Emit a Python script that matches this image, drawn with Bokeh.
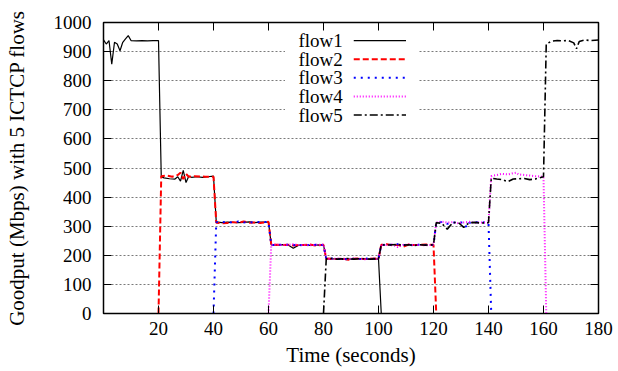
from bokeh.plotting import figure
from bokeh.models import (Range1d, FixedTicker, LinearAxis, Label, Arrow,
                          BoxAnnotation, ColumnDataSource)
from bokeh.embed import file_html
from bokeh.resources import INLINE

# ---------------- data ----------------
x_ticks = [20, 40, 60, 80, 100, 120, 140, 160, 180]
y_ticks = [0, 100, 200, 300, 400, 500, 600, 700, 800, 900, 1000]

flow_names = ["flow1", "flow2", "flow3", "flow4", "flow5"]

flow1_t = [0, 1, 2, 3, 4, 5, 6, 7, 8, 9, 10, 12, 14, 16, 18, 20,
           21, 22, 24, 26, 27, 28, 29, 30, 31, 32, 34, 36, 38, 40,
           41, 43, 45, 47, 49, 51, 53, 55, 57, 60,
           61, 63, 65, 67, 69, 71, 73, 75, 77, 80,
           81, 83, 85, 87, 89, 91, 93, 95, 97, 100,
           101]
flow1_v = [940, 926, 938, 857, 932, 926, 903, 932, 944, 955, 938, 937, 938, 937, 938, 938,
           470, 466, 463, 462, 470, 455, 492, 450, 472, 468, 470, 468, 470, 472,
           315, 312, 314, 313, 312, 313, 315, 312, 314, 314,
           236, 235, 237, 236, 224, 235, 236, 234, 236, 235,
           188, 187, 189, 186, 188, 187, 189, 188, 187, 188,
           0]

flow2_t = [20, 21, 23, 25, 27, 28, 29, 30, 31, 33, 35, 37, 40,
           41, 43, 45, 47, 49, 51, 53, 55, 57, 60,
           61, 63, 65, 67, 69, 71, 73, 75, 77, 80,
           81, 83, 85, 87, 89, 91, 93, 95, 97, 100,
           101, 103, 105, 107, 109, 111, 113, 115, 117, 120,
           121]
flow2_v = [0, 472, 474, 470, 476, 484, 462, 480, 470, 472, 471, 470, 470,
           312, 310, 311, 314, 312, 316, 312, 313, 311, 315,
           237, 236, 235, 236, 234, 236, 235, 237, 234, 236,
           189, 188, 187, 189, 185, 188, 189, 187, 188, 189,
           236, 238, 234, 236, 230, 237, 235, 236, 237, 236,
           0]

flow3_t = [40, 41, 43, 45, 47, 49, 51, 53, 55, 57, 60,
           61, 63, 65, 67, 69, 71, 73, 75, 77, 80,
           81, 83, 85, 87, 89, 91, 93, 95, 97, 100,
           101, 103, 105, 107, 109, 111, 113, 115, 117, 120,
           121, 123, 125, 127, 129, 131, 132, 133, 135, 137, 140,
           141]
flow3_v = [0, 314, 313, 315, 312, 316, 313, 314, 312, 315, 314,
           236, 235, 237, 236, 235, 234, 236, 235, 236, 235,
           188, 189, 187, 188, 186, 188, 187, 189, 188, 188,
           235, 237, 236, 238, 235, 236, 234, 237, 235, 236,
           312, 314, 308, 313, 312, 313, 296, 312, 313, 314, 312,
           0]

flow4_t = [60, 61, 63, 65, 67, 69, 71, 73, 75, 77, 80,
           81, 83, 85, 87, 89, 91, 93, 95, 97, 100,
           101, 103, 105, 107, 109, 111, 113, 115, 117, 120,
           121, 123, 125, 127, 129, 131, 133, 135, 137, 140,
           141, 143, 145, 147, 149, 150, 151, 153, 155, 157, 160,
           161]
flow4_v = [0, 236, 237, 235, 236, 238, 235, 236, 234, 236, 237,
           188, 187, 189, 188, 187, 189, 188, 186, 188, 187,
           236, 235, 237, 228, 236, 237, 235, 236, 234, 236,
           313, 316, 312, 314, 310, 313, 315, 312, 313, 312,
           472, 476, 480, 478, 482, 484, 478, 476, 474, 472, 470,
           0]

flow5_t = [80, 81, 83, 85, 87, 89, 91, 93, 95, 97, 100,
           101, 103, 105, 107, 109, 111, 113, 115, 117, 120,
           121, 123, 125, 127, 129, 131, 133, 135, 137, 140,
           141, 143, 145, 147, 149, 151, 153, 155, 157, 160,
           161, 163, 165, 167, 169, 171, 172, 173, 175, 177, 180]
flow5_v = [0, 188, 189, 187, 188, 189, 187, 188, 188, 187, 188,
           236, 235, 236, 237, 235, 236, 234, 236, 235, 236,
           312, 310, 290, 312, 313, 296, 312, 313, 311, 312,
           465, 462, 460, 453, 462, 463, 464, 460, 462, 470,
           926, 936, 938, 937, 938, 930, 910, 935, 940, 938, 940]

flow_times = [flow1_t, flow2_t, flow3_t, flow4_t, flow5_t]
flow_values = [flow1_v, flow2_v, flow3_v, flow4_v, flow5_v]

# ---------------- styles ----------------
colors = ["#000000", "#ff0000", "#0000ff", "#ff00ff", "#000000"]
dashes = ["solid", "6 3", "2 5", "1 2", "8 3 2 3"]
widths = [1.2, 2, 2, 2, 1.6]
FONT = "Liberation Serif"

p = figure(width=618, height=371, output_backend="svg", toolbar_location=None,
           x_range=Range1d(0, 180), y_range=Range1d(0, 1000),
           min_border_left=103, min_border_right=20,
           min_border_top=22, min_border_bottom=58)
p.background_fill_color = "white"
p.border_fill_color = "white"
p.outline_line_color = "black"
p.outline_line_width = 1.5
p.outline_line_alpha = 1

p.xgrid.visible = False
p.ygrid.ticker = FixedTicker(ticks=y_ticks[1:-1])
p.ygrid.grid_line_color = "#7a7a7a"
p.ygrid.grid_line_dash = "2 2"
p.ygrid.grid_line_width = 1

for ax, ticks in ((p.xaxis[0], x_ticks), (p.yaxis[0], y_ticks)):
    ax.ticker = FixedTicker(ticks=ticks)
    ax.major_tick_in = 8
    ax.major_tick_out = 0
    ax.minor_tick_line_color = None
    ax.major_tick_line_color = "black"
    ax.axis_line_color = "black"
    ax.major_label_text_font = FONT
    ax.major_label_text_font_size = "19px"
    ax.major_label_text_color = "black"
    ax.axis_label_text_font = FONT
    ax.axis_label_text_font_size = "21px"
    ax.axis_label_text_font_style = "normal"
    ax.axis_label_text_color = "black"

p.xaxis[0].axis_label = "Time (seconds)"
p.xaxis[0].major_label_standoff = 8
p.xaxis[0].axis_label_standoff = 5
p.yaxis[0].axis_label = "Goodput (Mbps) with 5 ICTCP flows"
p.yaxis[0].major_label_standoff = 12
p.yaxis[0].axis_label_standoff = 22

# mirrored ticks on top and right (minor ticks only -> no labels drawn)
top = LinearAxis(ticker=FixedTicker(ticks=[], minor_ticks=x_ticks[:-1]),
                 minor_tick_in=8, minor_tick_out=0, minor_tick_line_color="black",
                 major_tick_line_color=None, axis_line_color="black")
right = LinearAxis(ticker=FixedTicker(ticks=[], minor_ticks=y_ticks[1:-1]),
                   minor_tick_in=8, minor_tick_out=0, minor_tick_line_color="black",
                   major_tick_line_color=None, axis_line_color="black")
p.add_layout(top, "above")
p.add_layout(right, "right")

for t, v, c, d, w in zip(flow_times, flow_values, colors, dashes, widths):
    src = ColumnDataSource(dict(t=t, v=v))
    p.line("t", "v", source=src, line_color=c, line_dash=d, line_width=w)

# ---------------- key (gnuplot style: text then sample) ----------------
p.add_layout(BoxAnnotation(left=66, right=114.5, bottom=652, top=968,
                           fill_color="white", fill_alpha=1, line_color=None))
key_y = [938, 874, 810, 746, 682]
for name, yy, c, d, w in zip(flow_names, key_y, colors, dashes, widths):
    p.add_layout(Label(x=87, y=yy, text=name, text_align="right",
                       text_baseline="middle", text_font=FONT,
                       text_font_size="19px", text_color="black"))
    p.add_layout(Arrow(end=None, x_start=91, y_start=yy, x_end=110, y_end=yy,
                       line_color=c, line_dash=d, line_width=w))

open("out.html", "w").write(file_html(p, INLINE))
